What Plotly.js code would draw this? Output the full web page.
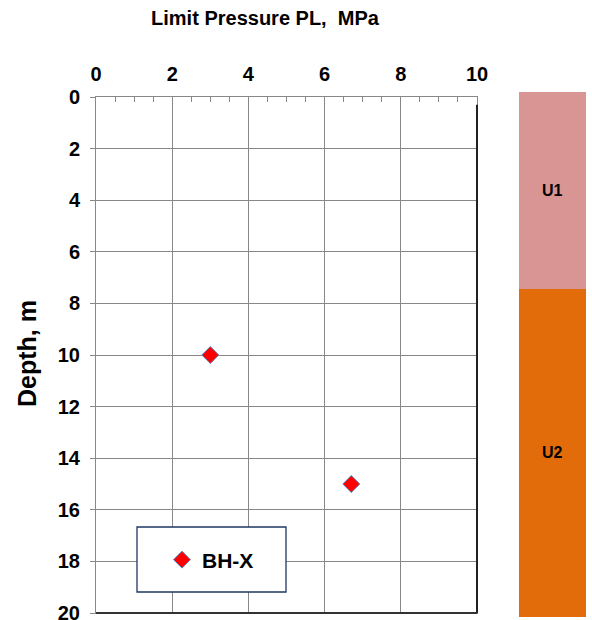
<!DOCTYPE html>
<html>
<head>
<meta charset="utf-8">
<script src="https://cdn.plot.ly/plotly-3.0.1.min.js"></script>
<style>
  html, body { margin: 0; padding: 0; background: #ffffff; }
  #chart { width: 592px; height: 620px; }
</style>
</head>
<body>
<div id="chart"></div>
<script>
// Pressuremeter test results: limit pressure vs depth
const boreholeName = 'BH-X';
const limitPressure = [3.0, 6.7];   // MPa
const testDepth = [10, 15];         // m

// Stratigraphic units in the side column
const unitNames = ['U1', 'U2'];
const unitTop = [0, 7.5];           // m
const unitBottom = [7.5, 20];       // m
const unitColors = ['#d99594', '#e36c0a'];

const xTicks = [0, 2, 4, 6, 8, 10];
const yTicks = [0, 2, 4, 6, 8, 10, 12, 14, 16, 18, 20];

const W = 592, H = 620;
const px = v => v / W;
const py = v => 1 - v / H;

const FONT = 'Liberation Sans, Arial, sans-serif';

const points = {
  type: 'scatter',
  mode: 'markers',
  name: '<b>' + boreholeName + '</b>',
  x: limitPressure,
  y: testDepth,
  xaxis: 'x',
  yaxis: 'y',
  marker: {
    symbol: 'diamond',
    size: 13,
    color: '#ff0000',
    line: { color: '#4f81bd', width: 1 }
  },
  cliponaxis: false
};

const units = {
  type: 'bar',
  x: unitNames.map(() => 1),
  base: unitTop,
  y: unitTop.map((t, i) => unitBottom[i] - t),
  marker: { color: unitColors, line: { width: 0 } },
  width: 1,
  xaxis: 'x2',
  yaxis: 'y2',
  showlegend: false,
  hoverinfo: 'skip'
};

// unit names centred in each layer of the column
const unitLabels = unitNames.map((n, i) => ({
  text: '<b>' + n + '</b>',
  xref: 'x2', yref: 'y2',
  x: 1, y: (unitTop[i] + unitBottom[i]) / 2,
  showarrow: false,
  font: { family: FONT, size: 16, color: '#000000' }
}));

const layout = {
  width: W,
  height: H,
  margin: { l: 0, r: 0, t: 0, b: 0 },
  paper_bgcolor: '#ffffff',
  plot_bgcolor: '#ffffff',
  font: { family: FONT, color: '#000000' },
  showlegend: true,
  barmode: 'overlay',
  title: {
    text: '<b>Limit Pressure PL,  MPa</b>',
    font: { family: FONT, size: 20, color: '#000000' },
    x: px(265), xanchor: 'center', xref: 'paper',
    y: py(18), yanchor: 'middle', yref: 'paper'
  },
  xaxis: {
    domain: [px(96), px(477)],
    anchor: 'y',
    side: 'top',
    range: [0, 10],
    tickvals: xTicks,
    ticktext: xTicks.map(v => '<b>' + v + '</b>'),
    tickfont: { family: FONT, size: 20, color: '#000000' },
    ticks: 'inside',
    ticklen: 5,
    tickcolor: '#888888',
    ticklabelstandoff: 7,
    ticklabeloverflow: 'allow',
    showgrid: true,
    gridcolor: '#888888',
    gridwidth: 1,
    minor: { dtick: 0.5, ticks: 'inside', ticklen: 5, tickcolor: '#888888', showgrid: false },
    showline: true,
    linecolor: '#888888',
    linewidth: 1,
    mirror: true,
    zeroline: false,
    fixedrange: true
  },
  yaxis: {
    domain: [py(613), py(97)],
    anchor: 'x',
    range: [20, 0],
    tickvals: yTicks,
    ticktext: yTicks.map(v => '<b>' + v + '</b>'),
    tickfont: { family: FONT, size: 20, color: '#000000' },
    ticks: 'outside',
    ticklen: 5,
    tickcolor: '#888888',
    ticklabelstandoff: 6,
    ticklabeloverflow: 'allow',
    showgrid: true,
    gridcolor: '#888888',
    gridwidth: 1,
    showline: true,
    linecolor: '#888888',
    linewidth: 1,
    mirror: true,
    zeroline: false,
    fixedrange: true
  },
  xaxis2: {
    domain: [px(519), px(586)],
    anchor: 'y2',
    range: [0.5, 1.5],
    visible: false,
    fixedrange: true
  },
  yaxis2: {
    domain: [py(617), py(92)],
    anchor: 'x2',
    range: [20, 0],
    visible: false,
    fixedrange: true
  },
  annotations: [{
    text: '<b>Depth, m</b>',
    textangle: -90,
    xref: 'paper', yref: 'paper',
    x: px(27), y: py(354),
    xanchor: 'center', yanchor: 'middle',
    showarrow: false,
    font: { family: FONT, size: 25, color: '#000000' }
  }].concat(unitLabels),
  legend: {
    x: px(162), y: py(560),
    xanchor: 'left', yanchor: 'middle',
    xref: 'paper', yref: 'paper',
    bgcolor: 'rgba(0,0,0,0)',
    borderwidth: 0,
    font: { family: FONT, size: 21, color: '#000000' },
    itemwidth: 30
  },
  shapes: [
    // legend frame
    { type: 'rect', xref: 'paper', yref: 'paper',
      x0: px(137), x1: px(286), y0: py(592), y1: py(527),
      line: { color: '#1f3763', width: 1.3 }, fillcolor: '#ffffff', layer: 'above' },
    // darker right and bottom edges of the plot frame
    { type: 'line', xref: 'x domain', yref: 'y domain',
      x0: 1, x1: 1, y0: 0, y1: 0.985,
      line: { color: '#222222', width: 2 }, layer: 'above' },
    { type: 'line', xref: 'x domain', yref: 'y domain',
      x0: 0, x1: 1, y0: 0, y1: 0,
      line: { color: '#333333', width: 2 }, layer: 'above' }
  ]
};

Plotly.newPlot('chart', [units, points], layout, { staticPlot: true });
</script>
</body>
</html>
